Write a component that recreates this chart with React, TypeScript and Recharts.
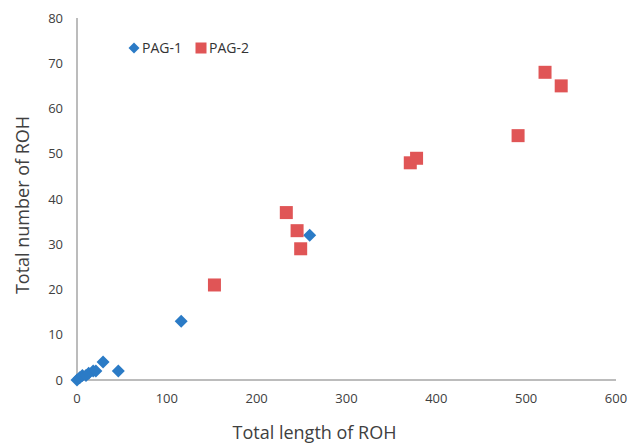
import React from 'react';
import { ScatterChart, Scatter, XAxis, YAxis, Legend } from 'recharts';

const pag1X = [0, 3, 6, 10, 13, 18, 21, 29, 46, 116, 259];
const pag1Y = [0, 0.5, 1, 1, 1.5, 2, 2, 4, 2, 13, 32];
const pag2X = [153, 233, 245, 249, 371, 378, 491, 521, 539];
const pag2Y = [21, 37, 33, 29, 48, 49, 54, 68, 65];
const xTicks = [0, 100, 200, 300, 400, 500, 600];
const yTicks = [0, 10, 20, 30, 40, 50, 60, 70, 80];

const pag1 = pag1X.map((x, i) => ({ x, y: pag1Y[i] }));
const pag2 = pag2X.map((x, i) => ({ x, y: pag2Y[i] }));

const BLUE = '#2B7BC6';
const RED = '#E05556';
const FONT = '"Open Sans", sans-serif';

const Diamond = (props: any) => {
  const { cx, cy } = props;
  const r = 6.5;
  return <polygon points={`${cx},${cy - r} ${cx + r},${cy} ${cx},${cy + r} ${cx - r},${cy}`} fill={BLUE} />;
};
const Square = (props: any) => {
  const { cx, cy } = props;
  const r = 6.5;
  return <rect x={cx - r} y={cy - r} width={2 * r} height={2 * r} fill={RED} />;
};

const YLabel = (props: any) => {
  const vb = props.viewBox || { x: 37, y: 18, width: 40, height: 362 };
  const cx = 22;
  const cy = vb.y + vb.height / 2 + 6;
  return (
    <text
      x={cx}
      y={cy}
      transform={`rotate(-90, ${cx}, ${cy})`}
      textAnchor="middle"
      dominantBaseline="central"
      fill="#404040"
      fontSize={18}
      fontFamily={FONT}
    >
      Total number of ROH
    </text>
  );
};

const renderLegend = () => (
  <div style={{ display: 'flex', alignItems: 'center', fontFamily: FONT, fontSize: 14, color: '#333' }}>
    <svg width={12} height={12} style={{ marginRight: 2 }}>
      <polygon points="6,0.5 11.5,6 6,11.5 0.5,6" fill={BLUE} />
    </svg>
    <span style={{ marginRight: 13 }}>PAG-1</span>
    <svg width={12} height={12} style={{ marginRight: 2 }}>
      <rect x={0.5} y={0.5} width={11} height={11} fill={RED} />
    </svg>
    <span>PAG-2</span>
  </div>
);

export default function App() {
  return (
    <div style={{ position: 'absolute', left: 0, top: 0, background: '#fff' }}>
      <ScatterChart width={629} height={447} margin={{ top: 18, right: 13, bottom: 47, left: 37 }}>
        <XAxis
          type="number"
          dataKey="x"
          domain={[0, 600]}
          ticks={xTicks}
          tickLine={false}
          tickSize={6}
          tickMargin={8}
          axisLine={{ stroke: '#A6A6A6', strokeWidth: 1.5 }}
          tick={{ fill: '#404040', fontSize: 13, fontFamily: FONT }}
          label={{ value: 'Total length of ROH', position: 'insideBottom', offset: -39, dx: -32, fill: '#404040', fontSize: 18, fontFamily: FONT }}
          height={20}
        />
        <YAxis
          type="number"
          dataKey="y"
          domain={[0, 80]}
          ticks={yTicks}
          tickLine={false}
          tickSize={6}
          tickMargin={8}
          width={40}
          axisLine={{ stroke: '#A6A6A6', strokeWidth: 1.5 }}
          tick={{ fill: '#404040', fontSize: 13, fontFamily: FONT }}
          label={<YLabel />}
        />
        <Legend verticalAlign="middle" content={renderLegend} wrapperStyle={{ position: 'absolute', left: 128, top: 38, width: 200 }} />
        <Scatter name="PAG-1" data={pag1} shape={<Diamond />} isAnimationActive={false} />
        <Scatter name="PAG-2" data={pag2} shape={<Square />} isAnimationActive={false} />
      </ScatterChart>
    </div>
  );
}
